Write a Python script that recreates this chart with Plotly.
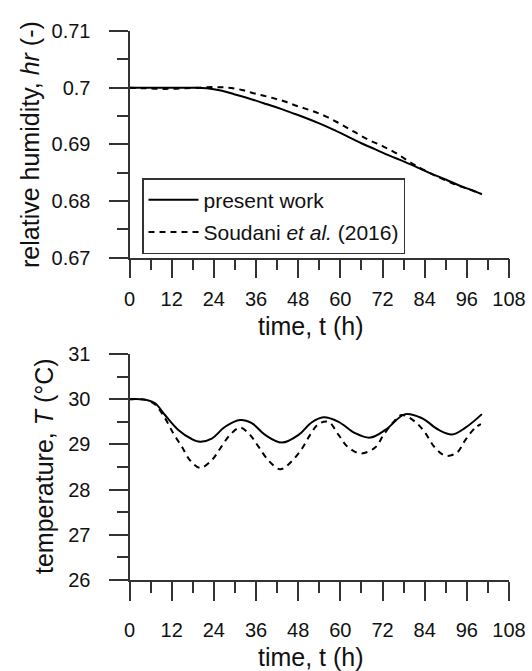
import plotly.graph_objects as go

# ---------------- data ----------------
hr_t_present = [0, 6, 12, 18, 22, 26, 30, 34, 38, 42, 46, 50, 54, 58, 62, 66, 70, 74, 78, 82, 86, 90, 94, 98, 100.3]
hr_present = [0.7000, 0.7000, 0.7000, 0.7000, 0.6999, 0.6995, 0.6988, 0.6981, 0.6973, 0.6965, 0.6956,
              0.6947, 0.6937, 0.6926, 0.6914, 0.6902, 0.6891, 0.6880, 0.6870, 0.6859, 0.6848, 0.6838,
              0.6827, 0.6818, 0.6812]

hr_t_soudani = [0, 4, 8, 12, 16, 20, 24, 28, 32, 36, 40, 44, 48, 52, 56, 60, 64, 68, 72, 76, 80, 84, 88, 92, 96, 100]
hr_soudani = [0.7000, 0.6999, 0.6998, 0.6998, 0.6999, 0.7000, 0.7001, 0.7000, 0.6996, 0.6989, 0.6983,
              0.6976, 0.6967, 0.6959, 0.6949, 0.6936, 0.6922, 0.6908, 0.6897, 0.6884, 0.6868, 0.6854,
              0.6842, 0.6831, 0.6822, 0.6813]

T_t_present = [0, 3, 5, 7.3, 10.1, 13.9, 17.7, 20.1, 23.4, 27.2, 31.5, 34.8, 38.6, 43.4, 48.1, 51.9,
               55.2, 59.5, 64.2, 68.5, 72.8, 78.5, 83.2, 88.0, 91.8, 95.6, 100.3]
T_present = [30.00, 30.00, 29.98, 29.91, 29.65, 29.32, 29.12, 29.06, 29.13, 29.39, 29.54, 29.47, 29.21,
             29.04, 29.21, 29.49, 29.60, 29.50, 29.25, 29.15, 29.32, 29.67, 29.58, 29.32, 29.22, 29.37, 29.67]

T_t_soudani = [0, 3, 5, 7.3, 10.1, 12.5, 14.9, 17.2, 20.1, 23.4, 25.8, 28.6, 31.5, 34.3, 36.7, 39.5,
               42.9, 46.2, 49.1, 51.4, 53.8, 56.6, 59.5, 61.9, 65.7, 69.9, 72.3, 75.2, 77.5, 81.3,
               84.2, 86.6, 89.9, 93.2, 95.6, 98.4, 100.0]
T_soudani = [30.00, 30.00, 29.98, 29.88, 29.58, 29.24, 28.95, 28.65, 28.48, 28.65, 28.91, 29.21, 29.37,
             29.21, 28.95, 28.65, 28.45, 28.63, 28.91, 29.21, 29.45, 29.50, 29.21, 28.96, 28.80, 28.93,
             29.21, 29.50, 29.65, 29.50, 29.25, 28.96, 28.75, 28.82, 29.10, 29.37, 29.45]

x_tickvals = [0, 12, 24, 36, 48, 60, 72, 84, 96, 108]
x_minor = [6, 18, 30, 42, 54, 66, 78, 90, 102]
hr_tickvals = [0.67, 0.68, 0.69, 0.70, 0.71]
hr_ticktext = ["0.67", "0.68", "0.69", "0.7", "0.71"]
hr_minor = [0.675, 0.685, 0.695, 0.705]
T_tickvals = [26, 27, 28, 29, 30, 31]
T_minor = [26.5, 27.5, 28.5, 29.5, 30.5]

W, H = 532, 671
FONT = "Liberation Sans, Arial, sans-serif"
AX = "#333333"
TICKFONT = dict(family=FONT, size=20, color="#111")

fig = go.Figure()
fig.add_trace(go.Scatter(x=hr_t_present, y=hr_present, mode="lines", name="present work",
                         line=dict(color="black", width=2, shape="spline"),
                         xaxis="x", yaxis="y", legendgroup="a"))
fig.add_trace(go.Scatter(x=hr_t_soudani, y=hr_soudani, mode="lines",
                         name="Soudani <i>et al.</i> (2016)",
                         line=dict(color="black", width=2, dash="6px,5px", shape="spline"),
                         xaxis="x", yaxis="y", legendgroup="b"))
fig.add_trace(go.Scatter(x=T_t_present, y=T_present, mode="lines", showlegend=False,
                         line=dict(color="black", width=2, shape="spline"),
                         xaxis="x2", yaxis="y2"))
fig.add_trace(go.Scatter(x=T_t_soudani, y=T_soudani, mode="lines", showlegend=False,
                         line=dict(color="black", width=2, dash="6px,5px", shape="spline"),
                         xaxis="x2", yaxis="y2"))
# empty traces so that the overlaid tick-label axes get drawn
fig.add_trace(go.Scatter(x=[], y=[], mode="lines", showlegend=False, xaxis="x", yaxis="y3"))
fig.add_trace(go.Scatter(x=[], y=[], mode="lines", showlegend=False, xaxis="x2", yaxis="y4"))

xdom = [129.5 / W, 509 / W]
ydom_top = [1 - 257.7 / H, 1 - 31 / H]
ydom_bot = [1 - 580 / H, 1 - 354 / H]

def xax(anchor, standoff):
    return dict(domain=xdom, range=[0, 108], anchor=anchor, showline=True, linecolor=AX, linewidth=1.5,
                ticks="outside", ticklen=19, tickwidth=1.5, tickcolor=AX, tickvals=x_tickvals,
                minor=dict(tickvals=x_minor, ticks="outside", ticklen=11, tickwidth=1.5, tickcolor=AX),
                showgrid=False, zeroline=False, tickfont=TICKFONT,
                ticklabelstandoff=standoff, automargin=False)

def yax(anchor, dom, rng, tv, mn):
    # axis line + ticks only (labels are drawn by the overlaid label axis)
    return dict(domain=dom, range=rng, anchor=anchor, showline=True, linecolor=AX, linewidth=1.5,
                ticks="outside", ticklen=19, tickwidth=1.5, tickcolor=AX, tickvals=tv,
                minor=dict(tickvals=mn, ticks="outside", ticklen=11, tickwidth=1.5, tickcolor=AX),
                showgrid=False, zeroline=False, showticklabels=False, automargin=False)

def ylab(anchor, over, rng, tv, tt):
    d = dict(overlaying=over, anchor=anchor, side="left", range=rng, showline=False,
             ticks="outside", ticklen=34, tickwidth=1, tickcolor="rgba(0,0,0,0)", tickvals=tv,
             showgrid=False, zeroline=False, showticklabels=True, tickfont=TICKFONT,
             automargin=False)
    if tt is not None:
        d["ticktext"] = tt
    return d

annos = [
    dict(text="relative humidity, <i>hr</i> (-)", x=30 / W, y=1 - 145 / H, textangle=-90),
    dict(text="temperature, <i>T</i> (°C)", x=44 / W, y=1 - 466 / H, textangle=-90),
    dict(text="time, t (h)", x=311 / W, y=1 - 326 / H),
    dict(text="time, t (h)", x=311 / W, y=1 - 657 / H),
]
for a in annos:
    a.update(xref="paper", yref="paper", xanchor="center", yanchor="middle", showarrow=False,
             font=dict(family=FONT, size=25, color="#111"))

fig.update_layout(
    width=W, height=H, autosize=False,
    margin=dict(l=0, r=0, t=0, b=0, pad=0, autoexpand=False),
    paper_bgcolor="white", plot_bgcolor="white",
    xaxis=xax("y", 4),
    yaxis=yax("x", ydom_top, [0.67, 0.71], hr_tickvals, hr_minor),
    xaxis2=xax("y2", 12),
    yaxis2=yax("x2", ydom_bot, [26, 31], T_tickvals, T_minor),
    yaxis3=ylab("x", "y", [0.67, 0.71], hr_tickvals, hr_ticktext),
    yaxis4=ylab("x2", "y2", [26, 31], T_tickvals, None),
    annotations=annos,
    showlegend=True,
    legend=dict(x=142 / W, y=1 - 178 / H, xanchor="left", yanchor="top",
                bgcolor="white", bordercolor=AX, borderwidth=1.5,
                font=dict(family=FONT, size=21, color="#111"),
                itemwidth=50, tracegroupgap=2, traceorder="grouped"),
    hovermode=False,
)

fig.write_html("out.html")
